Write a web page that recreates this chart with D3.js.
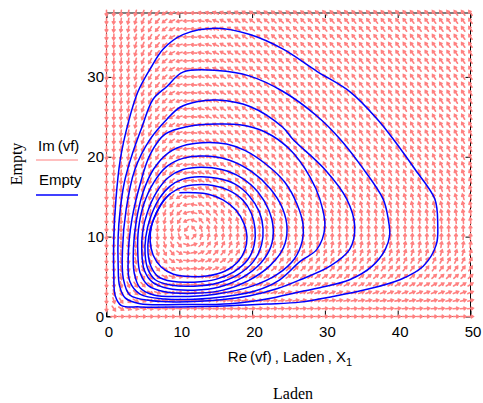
<!DOCTYPE html>
<html>
<head>
<meta charset="utf-8">
<script src="https://cdn.jsdelivr.net/npm/d3@7"></script>
<style>
  body { margin: 0; background: #fff; }
  svg { display: block; }
</style>
</head>
<body>
<svg id="chart" width="483" height="403"></svg>
<script>
// ---- data ----
const xTicks = [0, 10, 20, 30, 40, 50];
const yTicks = [0, 10, 20, 30];
const xDomain = [0, 50];
const yDomain = [0, 38];

// direction field grid (one arrow per integer node) and its model parameters
const fieldCols = d3.range(0, 51);
const fieldRows = d3.range(0, 39);
const equilibrium = [11.5, 10.5];   // centre of the swirl
const predatorGain = 1.3;

// blue trajectory, outermost loop first, [Laden, Empty]
const loop1 = [[15.2,36.1],[10.5,35.3],[7.8,33.5],[6.0,31.0],[4.3,28.1],[3.0,24.3],[1.9,19.7],[1.3,14.7],[1.0,9.7],[1.0,5.3],[1.2,2.6],[2.0,1.4],[4.6,1.2],[10.1,1.2],[17.0,1.35],[22.0,1.55],[26.6,1.8],[31.1,2.5],[35.8,3.4],[40.3,4.6],[43.5,6.3],[45.3,9.0],[45.5,11.5],[45.1,14.7],[42.4,18.4],[39.4,22.2],[37.2,24.7],[33.5,28.1],[28.9,30.7],[24.2,33.5],[19.7,35.3]];
const loop2 = [[15.2,30.8],[10.5,30.6],[8.3,28.8],[6.4,27.2],[4.9,23.8],[3.6,20.5],[2.5,17.0],[1.9,13.5],[1.6,10.0],[1.6,6.5],[1.8,3.8],[2.6,2.3],[4.6,1.6],[10.1,1.5],[17.0,1.6],[22.0,2.2],[26.6,3.1],[29.3,3.6],[33.4,4.6],[36.5,6.3],[38.3,8.4],[38.9,10.2],[38.7,12.2],[38.0,14.7],[35.1,18.7],[32.1,22.2],[28.9,25.1],[24.2,28.2],[19.7,30.1]];
const loop3 = [[15.2,27.1],[12.4,26.9],[10.1,26.2],[8.3,24.7],[6.0,22.2],[3.9,18.4],[2.7,13.4],[2.2,8.4],[2.3,4.8],[3.2,2.7],[6.0,2.0],[12.8,1.9],[19.7,2.6],[23.5,3.5],[26.6,4.6],[30.7,6.3],[33.4,8.4],[34.1,11.3],[33.0,14.7],[30.0,18.4],[25.6,22.2],[24.2,23.7],[19.7,26.3]];
const loop4 = [[15.2,24.1],[11.2,23.8],[8.0,22.8],[6.0,20.3],[4.6,16.5],[3.5,12.2],[3.0,7.8],[3.2,4.4],[4.6,2.8],[8.0,2.2],[14.2,2.3],[20.4,3.2],[23.8,4.6],[26.6,6.9],[28.9,8.4],[30.0,11.3],[29.3,14.7],[28.0,17.4],[25.2,20.9],[21.8,23.1],[18.3,24.0]];
const loop5 = [[14,21.8],[11,21.5],[8.5,20.5],[6.5,18.5],[5,15.5],[4.1,12],[3.7,8.5],[3.8,5.5],[4.6,3.6],[6.5,2.7],[10,2.5],[15,2.8],[20,3.8],[23.5,5.3],[25.8,7.2],[26.9,9.5],[27,11.5],[26.2,14],[24.5,16.8],[22,19],[19,20.8],[16.5,21.6]];
const loop6 = [[13.2,20.1],[10.5,19.8],[8.3,18.8],[6.5,16.8],[5.1,14],[4.4,11],[4.3,8],[4.6,5.5],[5.7,3.9],[8,3.1],[12,2.9],[16,3.3],[19.5,4.5],[22.5,6.4],[24.3,8.6],[24.8,11],[24.2,13.5],[22.5,16],[20,18.1],[16.8,19.6]];
const loop7 = [[13,18.7],[10.5,18.4],[8.5,17.4],[6.9,15.6],[5.6,13],[4.95,10.5],[4.85,8],[5.2,5.8],[6.3,4.3],[8.5,3.5],[12,3.3],[15.5,3.7],[18.7,4.9],[21.2,6.7],[22.6,8.8],[22.9,11],[22.3,13.3],[20.8,15.6],[18.5,17.4],[15.8,18.4]];
const loop8 = [[12.8,17.5],[10.5,17.2],[8.7,16.3],[7.2,14.7],[6,12.3],[5.4,10],[5.3,7.8],[5.7,5.9],[6.7,4.6],[8.8,3.95],[12,3.8],[15.3,4.2],[18,5.2],[20.2,6.9],[21.3,9],[21.5,11],[21,13.1],[19.6,15.1],[17.6,16.6],[15.2,17.3]];
const loop9 = [[12.5,16.5],[10.4,16.2],[8.8,15.4],[7.5,14],[6.4,12],[5.8,10],[5.7,8],[6.1,6.3],[7.1,5],[9,4.4],[12,4.3],[15,4.65],[17.5,5.6],[19.4,7.1],[20.3,9],[20.4,11],[19.9,12.9],[18.7,14.6],[16.8,15.8],[14.6,16.4]];
// innermost turn starts on the top and is not closed
const loop10 = [[10,15.5],[12,15.5],[14,15.3],[16,14.6],[17.8,13.3],[18.9,11.6],[19.3,10],[19,8.3],[18,6.8],[16.3,5.7],[14,5.1],[11.5,5.0],[9.2,5.3],[7.5,6.2],[6.4,7.7],[6.0,9.5],[6.2,11.4],[6.9,13.1],[7.8,14.5],[8.8,15.4]];
const closedLoops = [loop1, loop2, loop3, loop4, loop5, loop6, loop7, loop8, loop9];

const legendLabels = ["Im\u2009(vf)", "Empty"];

// ---- drawing ----
const width = 483, height = 403;
const sans = "'Liberation Sans', Arial, sans-serif";
const serif = "'Liberation Serif', 'Times New Roman', serif";
const red = "#ff8080", blue = "#0000ff";

const svg = d3.select("#chart");
svg.append("rect").attr("width", width).attr("height", height).attr("fill", "#fff");

const x = d3.scaleLinear().domain(xDomain).range([106.5, 470.5]);
const y = d3.scaleLinear().domain(yDomain).range([316.5, 13]);

// frame
svg.append("rect")
  .attr("x", x(0)).attr("y", y(38))
  .attr("width", x(50) - x(0)).attr("height", y(0) - y(38))
  .attr("fill", "none").attr("stroke", "#000").attr("stroke-width", 1);

// axes, ticks pointing inwards on all four sides
const gx = svg.append("g")
  .attr("transform", `translate(0,${y(0)})`)
  .call(d3.axisBottom(x).tickValues(xTicks).tickSizeInner(-6).tickSizeOuter(0).tickPadding(10));
gx.selectAll("text").attr("dx", 2);

const gy = svg.append("g")
  .attr("transform", `translate(${x(0)},0)`)
  .call(d3.axisLeft(y).tickValues(yTicks).tickSizeInner(-5).tickSizeOuter(0).tickPadding(2.5));

svg.append("g")
  .attr("transform", `translate(0,${y(38)})`)
  .call(d3.axisTop(x).tickValues(xTicks).tickSizeInner(-5).tickSizeOuter(0).tickFormat(""));

svg.append("g")
  .attr("transform", `translate(${x(50)},0)`)
  .call(d3.axisRight(y).tickValues(yTicks).tickSizeInner(-5).tickSizeOuter(0).tickFormat(""));

svg.selectAll(".domain").remove();
svg.selectAll(".tick line").attr("stroke", "#000");
svg.selectAll(".tick text")
  .attr("fill", "#000")
  .style("font-family", sans)
  .style("font-size", "15px");

// vector field
const arrowLen = 5.6, barb = 2.4;
const field = [];
fieldCols.forEach(cx => {
  fieldRows.forEach(cy => {
    const u = cx * (equilibrium[1] - cy);
    const v = predatorGain * cy * (cx - equilibrium[0]);
    const m = Math.hypot(u, v);
    if (m === 0) return;
    field.push({ cx, cy, ux: u / m, uy: -v / m });
  });
});

const arrowPath = d => {
  const px = x(d.cx), py = y(d.cy);
  const x0 = px - d.ux * arrowLen / 2, y0 = py - d.uy * arrowLen / 2;
  const x1 = px + d.ux * arrowLen / 2, y1 = py + d.uy * arrowLen / 2;
  const a = Math.atan2(d.uy, d.ux);
  const b1 = [x1 - barb * Math.cos(a - 0.6), y1 - barb * Math.sin(a - 0.6)];
  const b2 = [x1 - barb * Math.cos(a + 0.6), y1 - barb * Math.sin(a + 0.6)];
  return `M${x0},${y0}L${x1},${y1}M${b1[0]},${b1[1]}L${x1},${y1}L${b2[0]},${b2[1]}`;
};

svg.append("g")
  .selectAll("path")
  .data(field)
  .join("path")
  .attr("d", arrowPath)
  .attr("fill", "none")
  .attr("stroke", red)
  .attr("stroke-width", 1.6)
  .attr("stroke-linecap", "round");

// trajectory
const lineClosed = d3.line()
  .x(d => x(d[0])).y(d => y(d[1]))
  .curve(d3.curveCatmullRomClosed);
const lineOpen = d3.line()
  .x(d => x(d[0])).y(d => y(d[1]))
  .curve(d3.curveCatmullRom);

const traj = svg.append("g").attr("fill", "none").attr("stroke", blue).attr("stroke-width", 1.5);
traj.selectAll("path.loop")
  .data(closedLoops)
  .join("path")
  .attr("class", "loop")
  .attr("d", lineClosed);
traj.append("path").attr("d", lineOpen(loop10));

// legend
const legend = svg.append("g").style("font-family", sans).style("font-size", "15px");
legend.append("text").attr("x", 38).attr("y", 151).text(legendLabels[0]);
legend.append("line").attr("x1", 36).attr("x2", 78).attr("y1", 160).attr("y2", 160)
  .attr("stroke", red).attr("stroke-width", 1.2);
legend.append("text").attr("x", 39).attr("y", 185).text(legendLabels[1]);
legend.append("line").attr("x1", 36).attr("x2", 78).attr("y1", 195).attr("y2", 195)
  .attr("stroke", blue).attr("stroke-width", 1.5);

// axis titles
const title = svg.append("text")
  .attr("x", 290).attr("y", 362)
  .attr("text-anchor", "middle")
  .style("font-family", sans).style("font-size", "15px");
title.append("tspan").text("Re\u2009(vf)\u2009, Laden\u2009, X");
title.append("tspan").attr("dy", 4).style("font-size", "11px").text("1");

svg.append("text")
  .attr("x", 293).attr("y", 399)
  .attr("text-anchor", "middle")
  .style("font-family", serif).style("font-size", "16px")
  .text("Laden");

svg.append("text")
  .attr("transform", "translate(22,164) rotate(-90)")
  .attr("text-anchor", "middle")
  .style("font-family", serif).style("font-size", "16px")
  .text("Empty");
</script>
</body>
</html>
